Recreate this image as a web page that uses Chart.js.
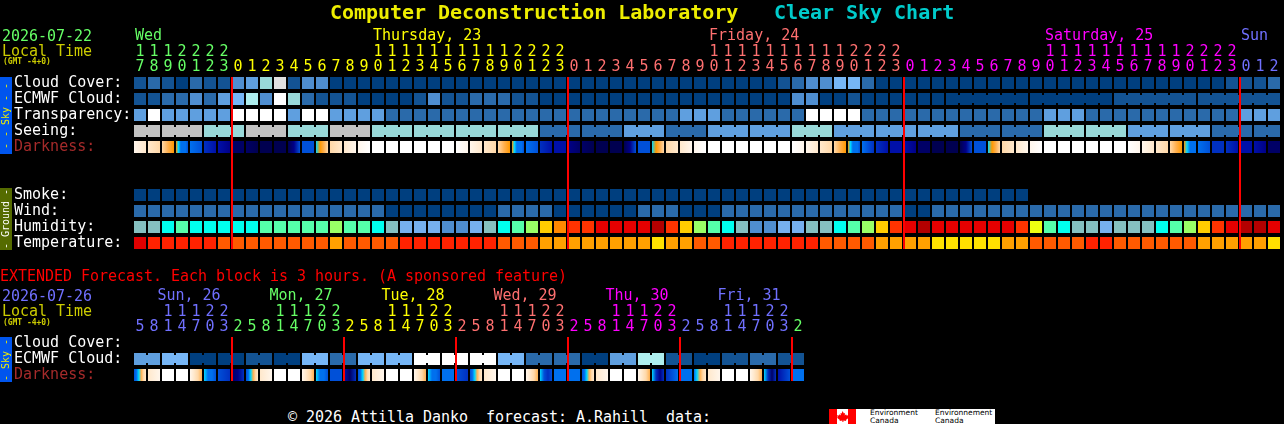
<!DOCTYPE html>
<html>
<head>
<meta charset="utf-8">
<title>Clear Sky Chart</title>
<script src="https://cdn.jsdelivr.net/npm/chart.js@4/dist/chart.umd.min.js"></script>
<style>
  html, body { margin: 0; background: #000; overflow: hidden; }
  #page { position: relative; width: 1284px; height: 424px; overflow: hidden; }
  canvas { position: absolute; left: 0; }
  .t { position: absolute; font: 15px/15px "DejaVu Sans Mono", monospace; letter-spacing: -0.03px; white-space: pre; color: #fff; }
  .title { font: bold 20px/20px "DejaVu Sans Mono", monospace; top: 2px; }
  .gmt { font-size: 8px; line-height: 8px; font-weight: bold; color: #cccc00; left: 3px; }
  .side { position: absolute; left: 0; width: 12px; overflow: hidden; }
  .side span { position: absolute; left: 50%; top: 50%; transform: translate(-50%, -50%) rotate(-90deg);
    font: 10px/10px "DejaVu Sans Mono", monospace; white-space: pre; }
  #flag { position: absolute; left: 829px; top: 409px; width: 27px; height: 15px;
    background: linear-gradient(90deg, #f00 0 8px, #fff 8px 19px, #f00 19px 27px); }
  #eccc { position: absolute; left: 856px; top: 409px; width: 139px; height: 15px; background: #fff; }
  #eccc div { position: absolute; top: 0; font: 7.5px/7.5px "DejaVu Sans", sans-serif; color: #000; white-space: pre; }
</style>
</head>
<body>
<div id="page">
  <canvas id="mainChart" width="1284" height="254" style="top:0"></canvas>
  <canvas id="extChart" width="1284" height="101" style="top:284px"></canvas>

  <div class="t title" style="left:330px;color:#eeee00">Computer Deconstruction Laboratory</div>
  <div class="t title" style="left:774px;color:#00cccc">Clear Sky Chart</div>
  <div class="t" style="left:2px;top:29px;color:#66ff66">2026-07-22</div>
  <div class="t" style="left:2px;top:44px;color:#cccc00">Local Time</div>
  <div class="t gmt" style="top:58px">(GMT -4+0)</div>
  <div class="side" style="top:77px;height:77px;background:#0055ee;color:#eeee00"><span>- - Sky - -</span></div>
  <div class="side" style="top:188px;height:62px;background:#556b00;color:#fff"><span>- Ground -</span></div>

  <div class="t" style="left:0;top:269px;color:#ff0000">EXTENDED Forecast. Each block is 3 hours. (A sponsored feature)</div>
  <div class="t" style="left:2px;top:289px;color:#7070ff">2026-07-26</div>
  <div class="t" style="left:2px;top:304px;color:#cccc00">Local Time</div>
  <div class="t gmt" style="top:319px">(GMT -4+0)</div>
  <div class="side" style="top:337px;height:45px;background:#0055ee;color:#eeee00"><span>- Sky -</span></div>

  <div class="t" style="left:288px;top:410px">© 2026 Attilla Danko  forecast: A.Rahill  data:</div>
  <div id="flag">
    <svg width="27" height="15" viewBox="0 0 27 15"><path fill="#f00" d="M13.5 2l1.4 2.4 1.2-.5-.4 2.6 1.4-1.2.5 1.2 2-.3-.7 2 .8.5-2.8 2.2.4 1.1-2.9-.4V13h-1v-1.4l-2.9.4.4-1.1L7.900 8.700l.8-.5-.7-2 2 .3.5-1.200 1.400 1.200-.4-2.600 1.200.5z"/></svg>
  </div>
  <div id="eccc">
    <div style="left:14px">Environment
Canada</div>
    <div style="left:79px">Environnement
Canada</div>
  </div>
</div>

<script>
// colour ramps, the rows below hold indexes into these
const skyColors = ['#003f7f', '#135393', '#2a6aaa', '#4f8ed0', '#5f9fdf', '#76b6f6', '#99d9d9', '#aeeeee', '#c2c2c2', '#e0e0e0', '#ffffff'];
const humidityColors = ['#85c0c0', '#00ffee', '#55ffaa', '#99ff66', '#eeff11', '#ffcc00', '#ff8800', '#ff3300', '#e60000', '#b30000', '#76b0ee', '#4f8ed0'];
const temperatureColors = ['#e00000', '#ff2200', '#ff5a00', '#ffa000', '#ffe000'];
const darknessColors = ['#ffffff', '#fff6ec', '#ffe8cc', '#ffd8a8', '#ffb050', '#ff9800', '#00d8ff', '#0070ee', '#0050d8', '#0030c0', '#0010a8', '#000088', '#000066', '#000050'];

// hourly forecast
const hourLabels = [
  '17','18','19','20','21','22','23',
  '0','1','2','3','4','5','6','7','8','9','10','11','12','13','14','15','16','17','18','19','20','21','22','23',
  '0','1','2','3','4','5','6','7','8','9','10','11','12','13','14','15','16','17','18','19','20','21','22','23',
  '0','1','2','3','4','5','6','7','8','9','10','11','12','13','14','15','16','17','18','19','20','21','22','23',
  '0','1','2'
];
const cloudCover = [
  1,2,1,0,2,1,1,3,4,6,
  9,1,3,3,0,0,0,0,0,0,
  0,0,0,0,0,0,0,0,0,0,
  0,0,0,0,0,0,0,0,0,0,
  0,0,0,0,0,0,1,2,3,3,
  5,5,2,0,0,0,0,0,0,0,
  0,0,0,0,0,0,0,0,0,0,
  0,0,0,0,0,0,0,0,1,1,
  1,2
];
const ecmwfCloud = [
  1,1,2,2,3,2,4,5,7,3,
  10,6,2,1,1,1,0,0,0,0,
  1,3,1,1,2,2,2,1,1,0,
  0,0,0,0,0,0,0,0,0,0,
  0,0,0,0,0,0,0,3,3,0,
  0,1,0,0,0,0,0,0,0,0,
  0,0,0,0,0,0,0,0,0,0,
  1,1,1,1,1,1,1,1,1,1,
  1,1
];
const ecmwfSpans = [
  1,1,1,1,1,1,1,1,1,1,1,1,1,1,1,1,1,1,1,1,1,1,1,1,1,1,1,1,1,
  1,1,1,1,1,1,1,1,1,1,1,1,1,1,1,1,1,1,1,1,1,1,1,1,1,1,1,1,1,
  6,6,6,6
];
const transparency = [
  4,10,4,4,4,4,4,10,10,10,
  10,4,10,10,4,4,4,4,2,2,
  2,2,2,2,2,2,2,2,2,2,
  2,2,2,2,2,2,2,2,2,4,
  4,4,2,2,2,2,2,2,10,10,
  10,10,2,2,2,2,2,2,2,2,
  2,2,2,2,2,4,4,4,2,2,
  2,2,2,2,2,2,2,2,2,4,
  4,4
];
const seeingSpans = [2,3,3,3,3,3,3,3,3,3,3,3,3,3,3,3,3,3,3,3,3,3,3,3,3,3,3,2];
const seeingValues = [8,8,6,8,6,8,6,6,6,6,2,2,4,2,4,4,6,4,4,4,2,2,6,6,4,4,2,2];
const darkness = [
  [1,2],[2,3],[3,4,5],[5,6,7,7,7,8],[7,8],[9,10],[10,11],[12],[12,13],[13],
  [13],[13,11,8],[8],[6,5,4,3],[3,2],[2,1],[1,0],[0],[0],[0],
  [0],[0],[0],[0,1],[1,2],[2,3],[3,4,5],[5,6,7,7,7,8],[7,8],[9,10],
  [10],[11,12],[12,13],[13],[13],[13,11,8],[8],[6,5,4,3],[3,2],[2,1],
  [1,0],[0],[0],[0],[0],[0],[0],[0,1],[1,2],[2,3],
  [3,4,5],[5,6,7,7,7,8],[7,8,9],[9,10],[10],[10,11],[12],[13],[13],[13,11,8],
  [8],[6,5,4,3],[3,2],[2,1],[1,0],[0],[0],[0],[0],[0],
  [0],[0,1],[1,2],[2,3],[3,4,5],[5,6,7,7,7],[7,8],[9],[9,10],[10],
  [10,11],[12]
];
const smoke = [
  0,0,0,0,0,0,0,0,0,0,
  0,0,0,0,0,0,0,0,0,0,
  0,0,0,0,0,0,0,0,0,0,
  0,0,0,0,0,0,0,0,0,0,
  0,0,0,0,0,0,0,0,0,0,
  0,0,0,0,0,0,0,0,0,0,
  0,0,0,0
];
const wind = [
  2,2,2,2,2,2,2,2,2,2,
  2,2,2,2,2,2,2,2,0,0,
  0,0,0,0,0,0,2,2,2,2,
  0,0,0,0,0,0,2,2,2,0,
  0,0,2,2,2,2,2,2,2,2,
  2,2,2,2,2,0,0,2,2,2,
  2,2,2,2,2,2,2,2,2,2,
  2,2,2,2,2,2,2,2,2,2,
  2,2
];
const humidity = [
  0,0,1,2,1,1,1,1,1,2,
  2,2,2,2,3,2,2,1,0,10,
  10,10,11,11,10,0,1,2,3,5,
  6,7,7,8,8,8,8,9,7,5,
  3,2,1,0,11,11,10,10,0,0,
  1,2,3,5,7,8,9,8,8,8,
  8,8,8,7,4,2,1,0,0,10,
  0,0,0,1,2,3,5,7,8,9,
  9,8
];
const temperature = [
  0,1,1,1,1,1,2,2,2,2,
  2,2,2,2,3,2,2,2,2,1,
  1,1,1,1,1,1,2,2,2,3,
  3,3,3,3,3,3,3,4,3,3,
  2,2,1,1,1,1,1,1,1,2,
  2,2,2,3,3,3,3,4,4,4,
  4,4,3,3,2,2,2,2,1,1,
  2,2,2,2,2,2,3,3,3,3,
  3,4
];
const midnights = [6.5715, 30.5715, 54.5715, 78.5715];
const hourColorSpans = [[7,'#66ff66'],[24,'#ffff00'],[24,'#ff7070'],[24,'#ff00ff'],[3,'#7070ff']];
const dayHeaders = [['Wed',0,'#66ff66'],['Thursday, 23',17,'#ffff00'],['Friday, 24',41,'#ff7070'],['Saturday, 25',65,'#ff00ff'],['Sun',79,'#7070ff']];

// 3 hour extended forecast
const extHourLabels = [
  '5','8','11','14','17','20','23',
  '2','5','8','11','14','17','20','23',
  '2','5','8','11','14','17','20','23',
  '2','5','8','11','14','17','20','23',
  '2','5','8','11','14','17','20','23',
  '2','5','8','11','14','17','20','23',
  '2'
];
const extSpans = [2,2,2,2,2,2,2,2,2,2,2,2,2,2,2,2,2,2,2,2,2,2,2,2];
const extEcmwf = [4,5,0,0,1,0,5,2,5,5,10,10,10,5,2,2,0,4,7,1,0,1,2,1];
const extDarkness = [
  [8,7,6,4,3,2],[2,1],[0],[0],[1,2,3,4],[6,7,7,8],[8,9],[12,11,9],
  [8,7,6,4,3,2],[2,1],[0],[0],[1,2,3,4],[6,7,7,8],[8],[10,12,9],
  [8,7,6,4,3,2],[2,1],[0],[0],[1,2,3,4],[6,7,7,8],[7],[8,9],
  [8,7,6,4,3,2],[2,1],[0],[0],[1,2,3,4],[6,8,9,8],[7],[7],
  [8,7,6,4,3,2],[2,1],[0],[0],[1,2,3,4],[6,9,11,9],[9,7],[7],
  [7,6,4,3,2],[2,1],[0],[0],[1,2,3,4],[6,9,12,9],[10,8],[7]
];
const extMidnights = [6.5715, 14.5715, 22.5715, 30.5715, 38.5715, 46.5715];
const extHourColorSpans = [[7,'#7070ff'],[8,'#66ff66'],[8,'#ffff00'],[8,'#ff7070'],[8,'#ff00ff'],[8,'#7070ff'],[1,'#66ff66']];
const extDayHeaders = [['Sun, 26',3.5,'#7070ff'],['Mon, 27',11.5,'#66ff66'],['Tue, 28',19.5,'#ffff00'],['Wed, 29',27.5,'#ff7070'],['Thu, 30',35.5,'#ff00ff'],['Fri, 31',43.5,'#7070ff']];

const FONT = '"DejaVu Sans Mono", monospace';

function expandSpans(spans, values) {
  const out = [];
  spans.forEach((n, k) => { for (let j = 0; j < n; j++) out.push(values[k]); });
  return out;
}

function joinsOf(spans) {
  const joins = [];
  let col = 0;
  spans.forEach(n => {
    for (let j = 0; j < n - 1; j++) joins.push(col + j + 0.5);
    col += n;
  });
  return joins;
}

function hourColors(spans) {
  return expandSpans(spans.map(s => s[0]), spans.map(s => s[1]));
}

function cellDataset(row, values, palette) {
  return {
    data: values.map((v, i) => ({ x: i, y: [row - 0.375, row + 0.375] })),
    backgroundColor: values.map(v => palette[v]),
    barThickness: 12,
    order: 3
  };
}

function joinDataset(row, spans, colors) {
  // the thin bridge between cells that come from one forecast step
  const joins = joinsOf(spans);
  return {
    data: joins.map(x => ({ x, y: [row - 0.25, row + 0.25] })),
    backgroundColor: joins.map(x => colors[Math.floor(x)]),
    barThickness: 2,
    order: 3
  };
}

function darknessDataset(row, cells) {
  return {
    data: cells.map((c, i) => ({ x: i, y: [row - 0.375, row + 0.375] })),
    backgroundColor(ctx) {
      const stops = cells[ctx.dataIndex];
      if (!stops) return '#000';
      const px = ctx.chart.scales.x.getPixelForValue(ctx.dataIndex);
      // options also get resolved once before the scales have been laid out
      if (stops.length === 1 || !isFinite(px)) return darknessColors[stops[0]];
      const g = ctx.chart.ctx.createLinearGradient(px - 6, 0, px + 6, 0);
      stops.forEach((s, k) => g.addColorStop(k / (stops.length - 1), darknessColors[s]));
      return g;
    },
    barThickness: 12,
    order: 3
  };
}

function midnightDataset(cols, top, bottom) {
  return {
    data: cols.map(x => ({ x, y: [top, bottom] })),
    backgroundColor: '#ff0000',
    barThickness: 2,
    order: 1
  };
}

const dayHeaderPlugin = {
  id: 'dayHeaders',
  afterDraw(chart, args, opts) {
    const c = chart.ctx;
    c.save();
    c.font = '15px ' + FONT;
    c.textBaseline = 'middle';
    c.textAlign = opts.align;
    opts.items.forEach(([label, col, color]) => {
      const x = chart.scales.x.getPixelForValue(col) + opts.shift;
      c.fillStyle = color;
      c.fillText(label, x, opts.y);
    });
    c.restore();
  }
};

// tick labels would otherwise push the plot area in by half a label
function clearScalePadding(scale) {
  scale.paddingLeft = scale.paddingRight = scale.paddingTop = scale.paddingBottom = 0;
}

function makeChart(id, cfg) {
  const colors = hourColors(cfg.hourSpans);
  return new Chart(document.getElementById(id), {
    type: 'bar',
    data: { datasets: cfg.datasets },
    plugins: [dayHeaderPlugin],
    options: {
      responsive: false,
      animation: false,
      devicePixelRatio: 1,
      grouped: false,
      inflateAmount: 0,
      borderWidth: 0,
      events: [],
      layout: { padding: { left: 14, right: cfg.rightPad, top: 0, bottom: cfg.bottomPad } },
      plugins: {
        legend: { display: false },
        tooltip: { enabled: false },
        dayHeaders: { items: cfg.days, y: cfg.dayY, align: cfg.dayAlign, shift: cfg.dayShift }
      },
      scales: {
        x: {
          type: 'linear',
          position: 'top',
          offset: false, // bar charts default to true, which widens the range
          min: -0.5,
          max: cfg.hours.length - 0.5,
          grid: { display: false, drawTicks: false },
          border: { display: false },
          afterBuildTicks(scale) {
            scale.ticks = cfg.hours.map((h, i) => ({ value: i }));
          },
          afterFit(scale) {
            scale.height = cfg.axisHeight;
            clearScalePadding(scale);
          },
          ticks: {
            autoSkip: false,
            maxRotation: 0,
            minRotation: 0,
            padding: 2,
            font: { family: FONT, size: 15, lineHeight: 1 },
            color: ctx => colors[ctx.index],
            callback(value, index) {
              const h = cfg.hours[index];
              return h.length === 2 ? [h[0], h[1]] : ['', h];
            }
          }
        },
        y: {
          type: 'linear',
          reverse: true,
          min: -0.375,
          max: cfg.yMax,
          grid: { display: false, drawTicks: false },
          border: { display: false },
          afterBuildTicks(scale) {
            scale.ticks = cfg.rows.map(r => ({ value: r[1] }));
          },
          afterFit(scale) {
            scale.width = 119;
            clearScalePadding(scale);
          },
          ticks: {
            autoSkip: false,
            crossAlign: 'far',
            padding: 0,
            font: { family: FONT, size: 15, lineHeight: 1 },
            color: ctx => (cfg.rows[ctx.index][0] === 'Darkness:' ? '#a52a2a' : '#ffffff'),
            callback: (value, index) => cfg.rows[index][0]
          }
        }
      }
    }
  });
}

const seeing = expandSpans(seeingSpans, seeingValues);
const seeingColors = seeing.map(v => skyColors[v]);
const ecmwfColors = ecmwfCloud.map(v => skyColors[v]);

makeChart('mainChart', {
  hours: hourLabels,
  hourSpans: hourColorSpans,
  days: dayHeaders,
  dayY: 36,
  dayAlign: 'left',
  dayShift: -5,
  axisHeight: 77,
  bottomPad: 5,
  rightPad: 3,
  yMax: 10.375,
  rows: [['Cloud Cover:', 0], ['ECMWF Cloud:', 1], ['Transparency:', 2], ['Seeing:', 3], ['Darkness:', 4],
         ['Smoke:', 7], ['Wind:', 8], ['Humidity:', 9], ['Temperature:', 10]],
  datasets: [
    cellDataset(0, cloudCover, skyColors),
    cellDataset(1, ecmwfCloud, skyColors),
    joinDataset(1, ecmwfSpans, ecmwfColors),
    cellDataset(2, transparency, skyColors),
    cellDataset(3, seeing, skyColors),
    joinDataset(3, seeingSpans, seeingColors),
    darknessDataset(4, darkness),
    cellDataset(7, smoke, skyColors),
    cellDataset(8, wind, skyColors),
    cellDataset(9, humidity, humidityColors),
    cellDataset(10, temperature, temperatureColors),
    midnightDataset(midnights, -0.375, 10.375)
  ]
});

const extCloud = expandSpans(extSpans, extEcmwf);
makeChart('extChart', {
  hours: extHourLabels,
  hourSpans: extHourColorSpans,
  days: extDayHeaders,
  dayY: 12,
  dayAlign: 'center',
  dayShift: 0,
  axisHeight: 53,
  bottomPad: 4,
  rightPad: 479,
  yMax: 2.375,
  rows: [['Cloud Cover:', 0], ['ECMWF Cloud:', 1], ['Darkness:', 2]],
  datasets: [
    cellDataset(1, extCloud, skyColors),
    joinDataset(1, extSpans, extCloud.map(v => skyColors[v])),
    darknessDataset(2, extDarkness),
    midnightDataset(extMidnights, -0.375, 2.375)
  ]
});
</script>
</body>
</html>
